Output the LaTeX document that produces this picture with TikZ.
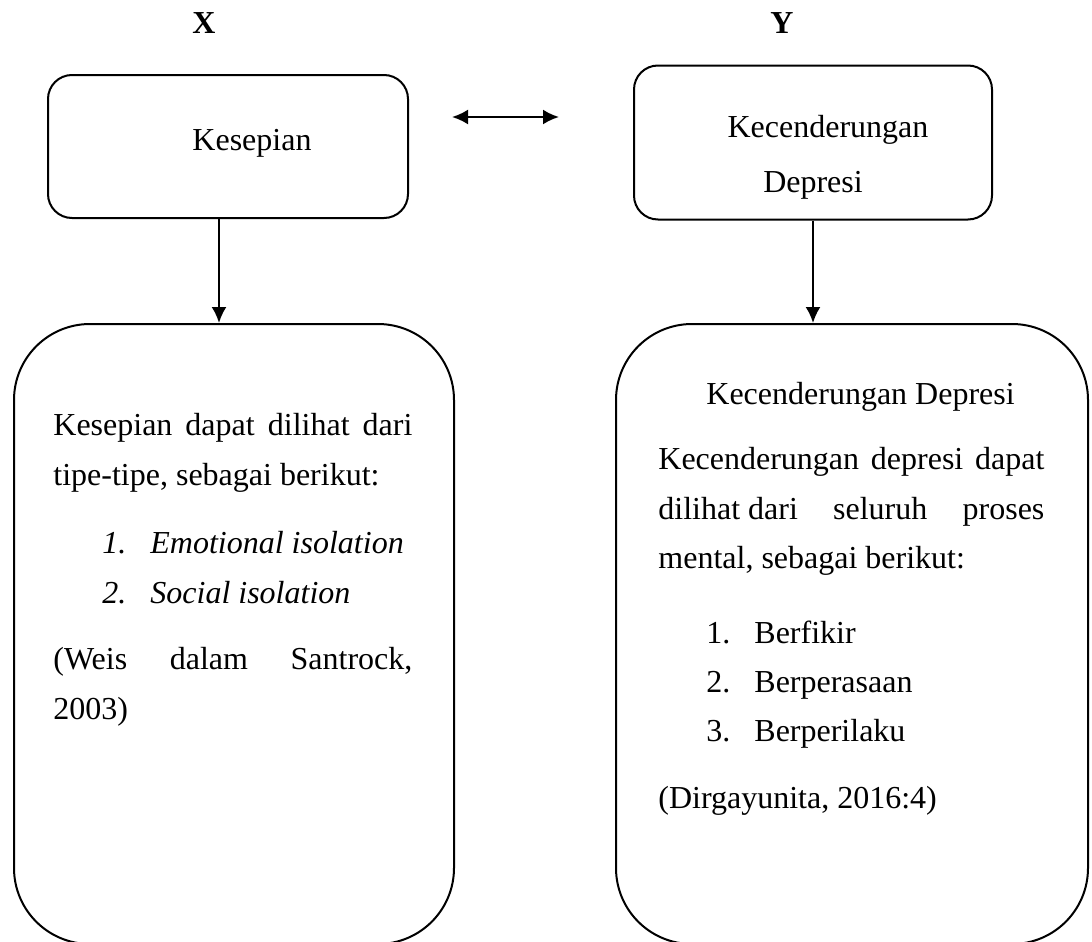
\documentclass[tikz,border=0pt]{standalone}
\usepackage{fontspec}
\setmainfont{Liberation Serif}
\usetikzlibrary{arrows.meta,calc}

\tikzset{
	box/.style={draw,line width=1pt,rounded corners=12pt,inner sep=0pt},
	bigbox/.style={draw,line width=1pt,rounded corners=38pt,inner sep=0pt},
	txt/.style={anchor=base west,inner sep=0pt,font=\fontsize{16}{19}\selectfont},
	arr/.style={-{Latex[length=8pt,width=7.5pt]},line width=1.1pt},
}

\begin{document}
\begin{tikzpicture}[x=0.5pt,y=-0.5pt]
	\useasboundingbox (0,0) rectangle (1092,942);
	\node[txt,anchor=base,font=\fontsize{16}{19}\selectfont\bfseries] (varx) at (204,33) {X};
	\node[txt,anchor=base,font=\fontsize{16}{19}\selectfont\bfseries] (vary) at (782,33) {Y};

	\node[box,minimum width=180pt,minimum height=71.5pt] (kes) at (228,146.5) {};
	\node[box,minimum width=179pt,minimum height=77pt] (dep) at (813,142.5) {};
	\node[txt,anchor=base] (keslabel) at (252,150) {Kesepian};
	\node[txt,anchor=base] (deplabel1) at (828,137) {Kecenderungan};
	\node[txt,anchor=base] (deplabel2) at (813,192) {Depresi};

	\coordinate (dbl1) at (452,117);
	\coordinate (dbl2) at (559,117);
	\draw[arr,{Latex[length=8pt,width=7.5pt]}-{Latex[length=8pt,width=7.5pt]}] (dbl1) -- (dbl2);

	\node[bigbox,minimum width=220pt,minimum height=310pt] (tipe) at (234,634) {};
	\node[bigbox,minimum width=236pt,minimum height=310pt] (proses) at (852,634) {};

	\draw[arr] ($(kes.south)+(-9,0)$) -- ($(tipe.north)+(-15,0)$);
	\draw[arr] (dep.south) -- (dep.south |- proses.north);

	\node[txt] (t1) at (53,435) {\makebox[179.5pt][s]{Kesepian dapat dilihat dari}};
	\node[txt] (t2) at (53,485) {tipe-tipe, sebagai berikut:};
	\node[txt] (t3) at (102,553) {\textit{1.}};
	\node[txt] (t4) at (150,553) {\textit{Emotional isolation}};
	\node[txt] (t5) at (102,603) {\textit{2.}};
	\node[txt] (t6) at (150,603) {\textit{Social isolation}};
	\node[txt] (t7) at (53,669) {\makebox[179.5pt][s]{(Weis dalam Santrock,}};
	\node[txt] (t8) at (53,719) {2003)};

	\node[txt] (p1) at (706,404) {Kecenderungan Depresi};
	\node[txt] (p2) at (658,469) {\makebox[193pt][s]{Kecenderungan depresi dapat}};
	\node[txt] (p3) at (658,519) {\hbox to 193pt{dilihat dari\hfill seluruh\hfill proses}};
	\node[txt] (p4) at (658,568) {mental, sebagai berikut:};
	\node[txt] (p5) at (706,643) {1.};
	\node[txt] (p6) at (754,643) {Berfikir};
	\node[txt] (p7) at (706,692) {2.};
	\node[txt] (p8) at (754,692) {Berperasaan};
	\node[txt] (p9) at (706,741) {3.};
	\node[txt] (p10) at (754,741) {Berperilaku};
	\node[txt] (p11) at (658,808) {(Dirgayunita, 2016:4)};
\end{tikzpicture}
\end{document}
